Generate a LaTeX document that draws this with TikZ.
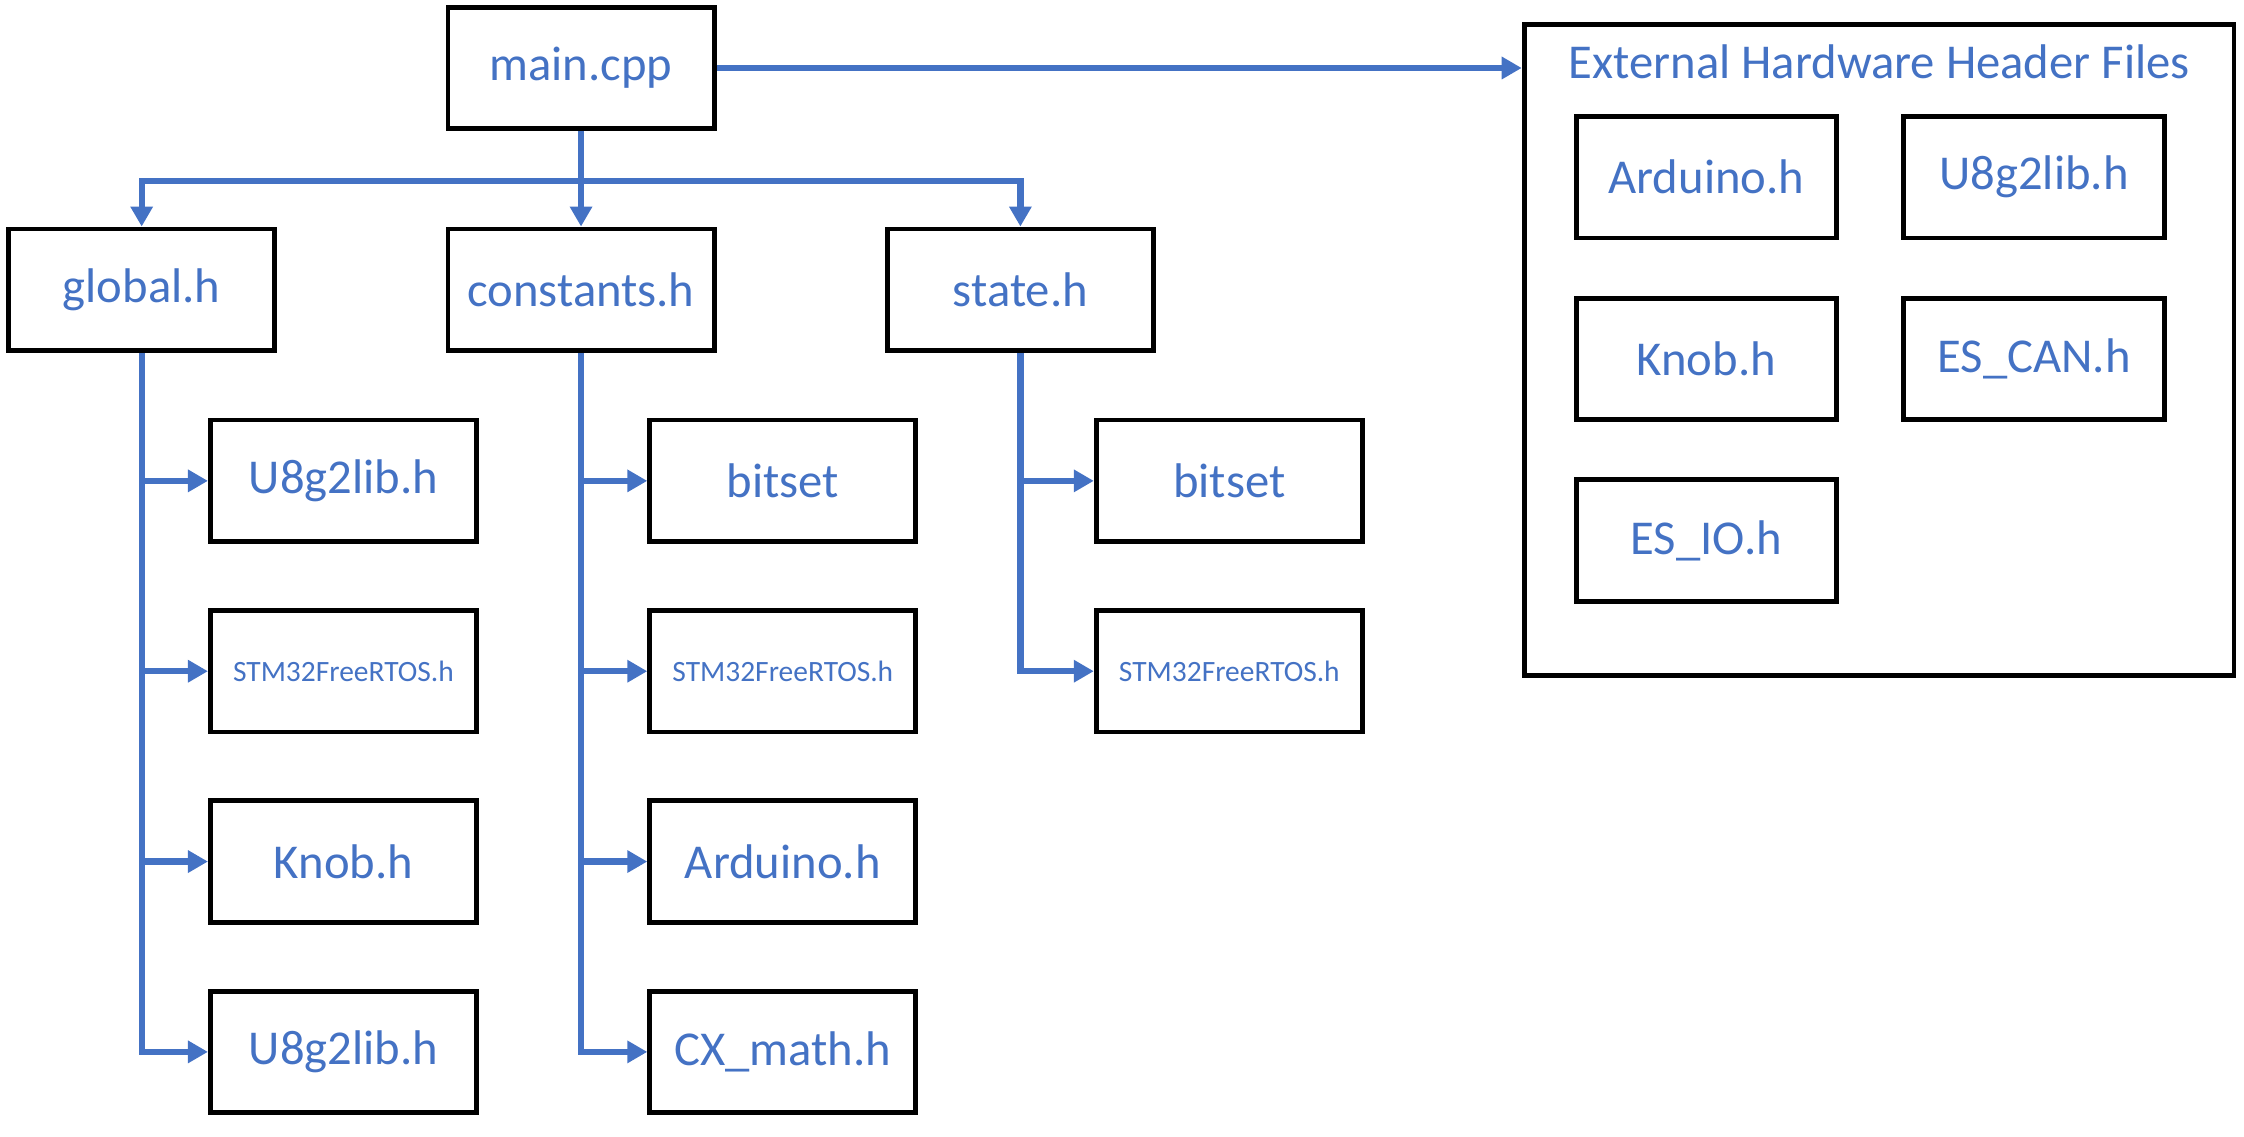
\documentclass[tikz,border=0pt]{standalone}
\usepackage{fontspec}
\setmainfont{Carlito}
\usepackage{xcolor}
\usepackage{tikz}
\usetikzlibrary{
        arrows.meta,
        positioning
    }
\definecolor{hdrblue}{HTML}{4472C4}

\begin{document}
\begin{tikzpicture}[
baseshape/.style={rectangle, minimum height=42.5pt, text centered, text=hdrblue, font=\fontsize{17}{20}\selectfont, draw=black, line width=1.7pt},
filebox/.style={baseshape, minimum width=93pt},
smallfile/.style={filebox, font=\fontsize{10.3}{12}\selectfont},
hwbox/.style={baseshape, minimum width=91pt},
hwframe/.style={rectangle, draw=black, line width=1.7pt, minimum width=248pt, minimum height=227.5pt},
arrow/.style={draw=hdrblue, line width=2.2pt, -{Triangle[length=7pt, width=7.5pt]}},
node distance=66.5pt,
]
\useasboundingbox (0,0) rectangle (784pt,-397pt);

\node (main) [filebox] at (203pt,-23.75pt) {main.cpp};
\node (constants) [filebox, below of=main, node distance=77.5pt] {constants.h};
\node (global) [filebox, left of=constants, node distance=153.5pt] {global.h};
\node (state) [filebox, right of=constants, node distance=153.5pt] {state.h};

% global.h includes
\node (glob1) [filebox, below of=global, xshift=70.5pt, node distance=66.75pt] {U8g2lib.h};
\node (glob2) [smallfile, below of=glob1] {STM32FreeRTOS.h};
\node (glob3) [filebox, below of=glob2] {Knob.h};
\node (glob4) [filebox, below of=glob3] {U8g2lib.h};

% constants.h includes
\node (cons1) [filebox, below of=constants, xshift=70.5pt, node distance=66.75pt] {bitset};
\node (cons2) [smallfile, below of=cons1] {STM32FreeRTOS.h};
\node (cons3) [filebox, below of=cons2] {Arduino.h};
\node (cons4) [filebox, below of=cons3] {CX\_math.h};

% state.h includes
\node (stat1) [filebox, below of=state, xshift=73pt, node distance=66.75pt] {bitset};
\node (stat2) [smallfile, below of=stat1] {STM32FreeRTOS.h};

% external headers
\node (hw) [hwframe] at (656.5pt,-122.25pt) {};
\node (hwtitle) [text=hdrblue, font=\fontsize{17}{20}\selectfont] at ([yshift=-14pt]hw.north) {External Hardware Header Files};
\node (ard) [hwbox] at ([xshift=64.5pt, yshift=-54.25pt]hw.north west) {Arduino.h};
\node (hwu8g2) [hwbox, right of=ard, node distance=114.5pt] {U8g2lib.h};
\node (knob) [hwbox, below of=ard, node distance=63.5pt] {Knob.h};
\node (escan) [hwbox, right of=knob, node distance=114.5pt] {ES\_CAN.h};
\node (esio) [hwbox, below of=knob, node distance=63.5pt] {ES\_IO.h};

\coordinate (split) at ([yshift=-17.5pt]main.south);

\draw[arrow] (main) -- (main -| hw.west);
\draw[arrow] (main) -- (constants);
\draw[arrow] (split) -| (global);
\draw[arrow] (split) -| (state);

\draw[arrow] (global) |- (glob1);
\draw[arrow] (global) |- (glob2);
\draw[arrow] (global) |- (glob3);
\draw[arrow] (global) |- (glob4);

\draw[arrow] (constants) |- (cons1);
\draw[arrow] (constants) |- (cons2);
\draw[arrow] (constants) |- (cons3);
\draw[arrow] (constants) |- (cons4);

\draw[arrow] (state) |- (stat1);
\draw[arrow] (state) |- (stat2);

\end{tikzpicture}
\end{document}
